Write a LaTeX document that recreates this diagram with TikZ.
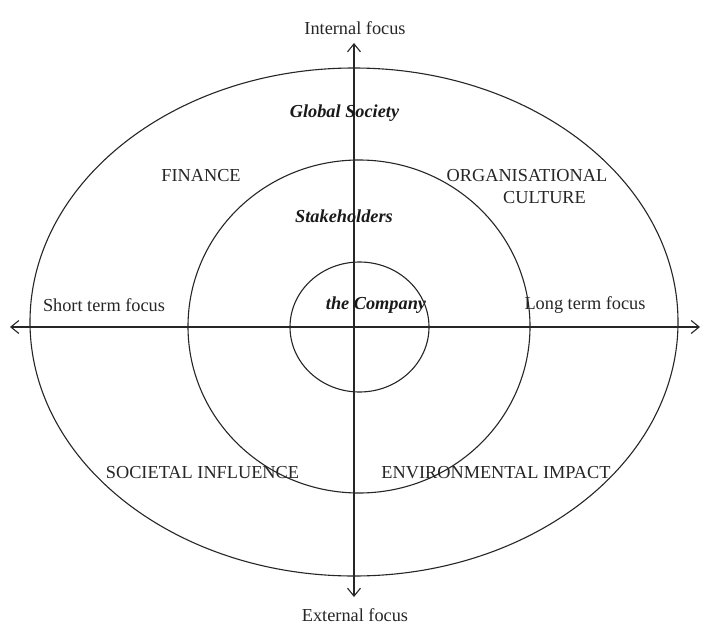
\documentclass[tikz,border=0pt]{standalone}
\usepackage{fontspec}
\setmainfont{Liberation Serif}
\usetikzlibrary{arrows.meta}
\begin{document}
\begin{tikzpicture}[x=1pt,y=-1pt,
  lbl/.style={font=\fontsize{18.3}{21}\selectfont, text=black!85, inner sep=0pt},
  blbl/.style={lbl, font=\fontsize{18.3}{21}\selectfont\bfseries\itshape, text=black!90},
  ring/.style={draw=black!85, line width=1.1pt},
  axis/.style={draw=black!85, line width=1.1pt, -{Straight Barb[length=8pt,width=13pt,line width=1.1pt]}}]
\useasboundingbox (0,0) rectangle (704,626);
\fill[white] (0,0) rectangle (704,626);
% rings
\draw[ring] (354,322) ellipse [x radius=324, y radius=254];
\draw[ring] (359,326.5) ellipse [x radius=171, y radius=166.5];
\draw[ring] (359.5,327) ellipse [x radius=69.5, y radius=65];
% axes
\coordinate (L) at (10,327);
\coordinate (R) at (700,327);
\coordinate (T) at (354,43);
\coordinate (B) at (354,597);
\coordinate (O) at (354,327);
\draw[axis] (O) -- (L);
\draw[axis] (O) -- (R);
\draw[axis] (O) -- (T);
\draw[axis] (O) -- (B);
% labels
\node[lbl] (int) at (355,28) {Internal focus};
\node[lbl] (ext) at (355,615) {External focus};
\node[blbl] (gs) at (344.5,113) {Global Society};
\node[lbl] (fin) at (201,176) {FINANCE};
\node[lbl] (org) at (527,176) {ORGANISATIONAL};
\node[lbl] (cul) at (544.5,198) {CULTURE};
\node[blbl] (stk) at (344,216) {Stakeholders};
\node[lbl] (stf) at (104,305) {Short term focus};
\node[blbl] (com) at (376,305) {the Company};
\node[lbl] (ltf) at (585,305) {Long term focus};
\node[lbl] (soc) at (202.5,473) {SOCIETAL INFLUENCE};
\node[lbl] (env) at (496,473) {ENVIRONMENTAL IMPACT};
\end{tikzpicture}
\end{document}
